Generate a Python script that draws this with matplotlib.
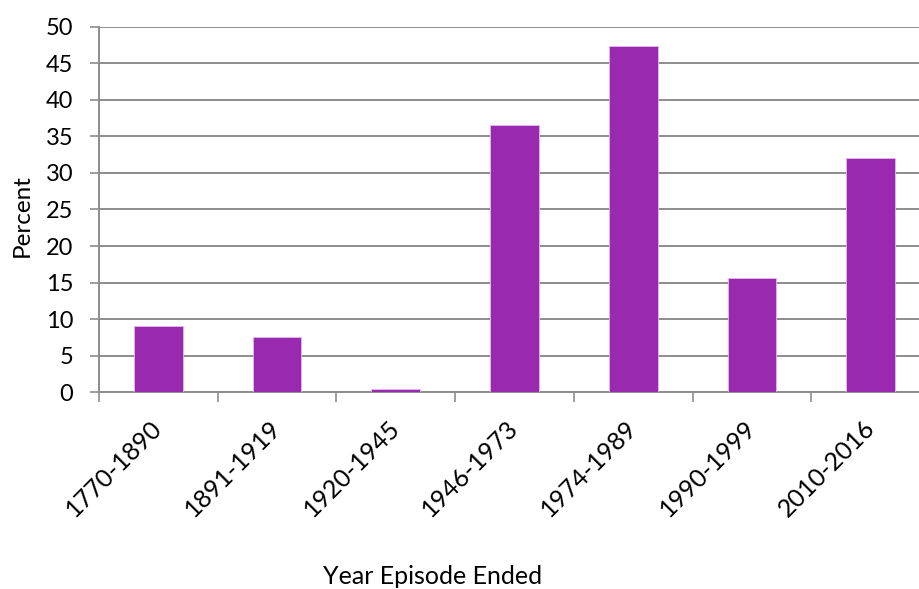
import matplotlib.pyplot as plt
import numpy as np

periods = ['1770-1890', '1891-1919', '1920-1945', '1946-1973',
           '1974-1989', '1990-1999', '2010-2016']
percent = [9.1, 7.5, 0.4, 36.5, 47.4, 15.6, 32.0]

plt.rcParams['font.family'] = ['Lato', 'DejaVu Sans']

fig = plt.figure(figsize=(9.2, 5.89), dpi=100)
ax = fig.add_axes([0.1076, 0.334, 0.9034, 0.6207])

x = np.arange(len(periods))
ax.bar(x, percent, width=0.41, color='#9929AF', edgecolor='#E6B8EE',
       linewidth=0.6, zorder=3)

ax.set_xlim(-0.5, len(periods) - 0.5)
ax.set_ylim(0, 50)
ax.set_yticks(np.arange(0, 51, 5))
ax.yaxis.grid(True, color='#8c8c8c', linewidth=1.4, zorder=0)
ax.tick_params(axis='y', direction='out', length=6.5, width=1.2,
               color='#8c8c8c', labelsize=17, pad=12)

# labels at the category centres, tick marks at the boundaries
ax.set_xticks(x)
ax.set_xticklabels(periods, rotation=45, ha='right', va='center',
                   rotation_mode='anchor', fontsize=18)
ax.tick_params(axis='x', which='major', length=0, pad=23)
ax.set_xticks(np.arange(-0.5, len(periods)), minor=True)
ax.tick_params(axis='x', which='minor', direction='out', length=7,
               width=1.2, color='#8c8c8c')

for s in ['top', 'right']:
    ax.spines[s].set_visible(False)
for s in ['left', 'bottom']:
    ax.spines[s].set_color('#8c8c8c')
    ax.spines[s].set_linewidth(1.4)

fig.text(22 / 920, 1 - 216 / 589, 'Percent', rotation=90, ha='center',
         va='center', fontsize=17.5)
fig.text(433 / 920, 1 - 577 / 589, 'Year Episode Ended', ha='center',
         va='center', fontsize=18)

fig.savefig('out.png', dpi=100)
